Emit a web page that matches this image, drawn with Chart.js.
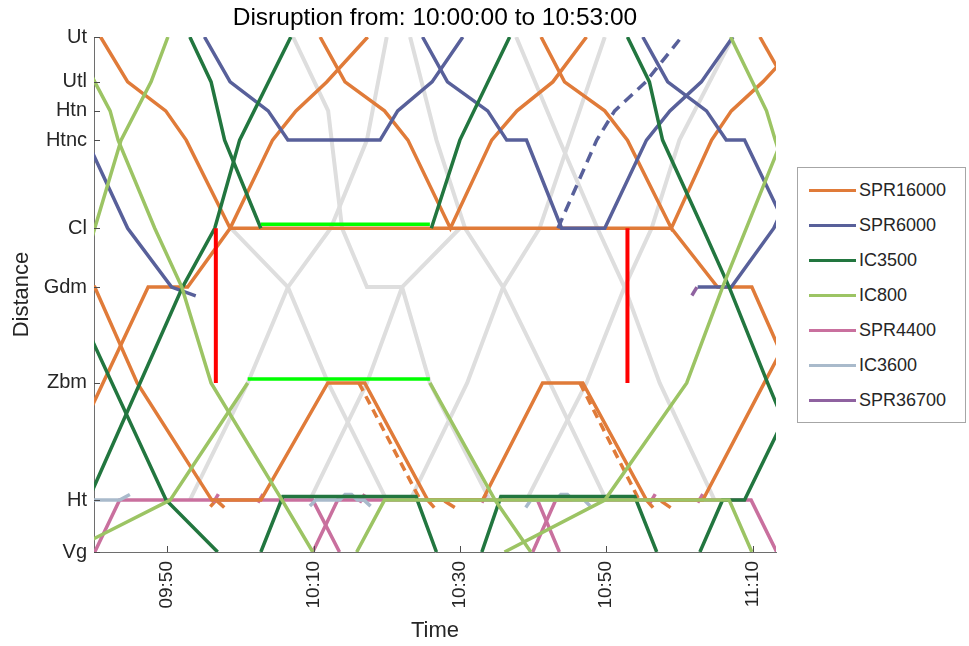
<!DOCTYPE html>
<html><head><meta charset="utf-8">
<script src="https://cdn.jsdelivr.net/npm/chart.js@4.4.1/dist/chart.umd.min.js"></script>
<style>
html,body{margin:0;padding:0;background:#fff;}
#wrap{position:relative;width:969px;height:646px;overflow:hidden;font-family:"Liberation Sans",Arial,sans-serif;}
#chart{position:absolute;left:0;top:0;}
#title{position:absolute;left:94px;width:682px;top:3px;text-align:center;font-size:24.5px;line-height:28px;color:#000;white-space:nowrap;}
#legend{position:absolute;left:797px;top:167px;width:169px;height:256px;border:1px solid #a6a6a6;background:#fff;box-sizing:border-box;}
.li{position:absolute;left:0;height:22px;width:168px;}
.li .sw{position:absolute;left:11px;top:10px;width:47px;height:3px;}
.li .tx{position:absolute;left:61px;top:0;font-size:18px;line-height:22px;color:#262626;white-space:nowrap;}
</style></head>
<body><div id="wrap"><canvas id="chart" width="969" height="646"></canvas><div id="title"></div><div id="legend"></div></div>
<script>
// ---------- axes ----------
const titleText = 'Disruption from: 10:00:00 to 10:53:00';
const stationNames = ['Vg','Ht','Zbm','Gdm','Cl','Htnc','Htn','Utl','Ut'];
const stationKm    = [0, 5.2, 16.94, 26.54, 32.44, 41.27, 44.2, 47.1, 51.6];
const timeTicks = [50, 70, 90, 110, 130];      // minutes after 09:00
const timeRange = [40, 133.2];

// ---------- trains: [minute after 09:00, station or km] ----------
const SPR16000_a = [[40.9,'Ut'],[44.6,'Utl'],[49.8,'Htn'],[52.6,'Htnc'],[58.6,'Cl'],[118.9,'Cl'],[125.2,'Gdm'],[129.9,'Gdm'],[135.7,'Zbm']];
const SPR16000_b = [[33.7,'Ht'],[47.4,'Gdm'],[52.8,'Gdm'],[58.6,'Cl'],[64.4,'Htnc'],[67.6,'Htn'],[71.8,'Utl'],[77.4,'Ut']];
const SPR16000_c = [[70.9,'Ut'],[74.3,'Utl'],[79.7,'Htn'],[82.9,'Htnc'],[88.7,'Cl'],[94.35,'Htnc'],[97.8,'Htn'],[102.7,'Utl'],[107.3,'Ut']];
const SPR16000_d = [[101.1,'Ut'],[104.3,'Utl'],[109.8,'Htn'],[112.9,'Htnc'],[118.9,'Cl'],[124.4,'Htnc'],[127.1,'Htn'],[131.4,'Utl'],[137.1,'Ut']];
const SPR16000_e = [[131.0,'Ut'],[134.5,'Utl']];
const SPR16000_f = [[38.5,'Gdm'],[40.1,'Gdm'],[45.9,'Zbm'],[56.1,'Ht'],[62.8,'Ht'],[71.95,'Zbm'],[77.0,'Zbm'],[85.6,'Ht'],[93.1,'Ht'],[101.3,'Zbm'],[106.8,'Zbm'],[115.5,'Ht'],[123.2,'Ht'],[131.6,'Zbm'],[138.5,'Gdm']];
const SPR16000_plan1 = [[76.2,'Zbm'],[84.6,'Ht']];
const SPR16000_plan2 = [[106.4,'Zbm'],[114.5,'Ht']];
const SPR16000_hooks = [[[55.9,4.55],[56.7,'Ht'],[57.8,4.45]],[[85.6,'Ht'],[86.5,4.45]],[[87.9,5.1],[89.3,4.45]],[[115.5,'Ht'],[116.4,4.45]],[[117.5,5.1],[118.8,4.45]]];

const SPR6000_a = [[39.0,'Htnc'],[44.6,'Cl'],[50.6,'Gdm'],[53.9,25.67]];
const SPR6000_b = [[55.1,'Ut'],[58.6,'Utl'],[63.8,'Htn'],[66.5,'Htnc'],[79.1,'Htnc'],[81.5,'Htn'],[86.2,'Utl'],[90.4,'Ut']];
const SPR6000_c = [[84.9,'Ut'],[88.3,'Utl'],[93.8,'Htn'],[96.4,'Htnc'],[99.1,'Htnc'],[103.9,'Cl'],[109.8,'Cl'],[115.5,'Htnc'],[118.7,'Htn'],[123.0,'Utl'],[127.3,'Ut']];
const SPR6000_plan = [[103.4,'Cl'],[108.7,'Htnc'],[111.15,'Htn'],[115.4,'Utl'],[120.3,'Ut']];
const SPR6000_d = [[115.0,'Ut'],[118.4,'Utl'],[123.7,'Htn'],[126.4,'Htnc'],[128.9,'Htnc'],[134.7,'Cl']];
const SPR6000_e = [[122.5,'Gdm'],[127.1,'Gdm'],[132.9,'Cl'],[138.5,'Htnc']];

const SPR36700_a = [[121.7,25.7],[122.4,'Gdm']];

const IC3500_a1 = [[53.1,'Ut'],[56.0,'Utl'],[57.85,'Htnc'],[62.8,'Cl']];
const IC3500_a2 = [[86.1,'Cl'],[90.0,'Htnc'],[96.8,'Ut']];
const IC3500_b = [[39.2,'Ht'],[52.1,'Gdm'],[56.5,'Cl'],[59.9,'Htnc'],[66.9,'Ut']];
const IC3500_c = [[36.4,'Gdm'],[49.85,'Ht'],[56.9,'Vg']];
const IC3500_d = [[62.8,'Vg'],[65.8,5.55],[84.0,5.55],[86.8,'Vg']];
const IC3500_e = [[93.0,'Vg'],[95.6,5.55],[113.9,5.55],[116.9,'Vg']];
const IC3500_f = [[122.8,'Vg'],[125.9,'Ht'],[128.9,'Ht'],[136.7,'Zbm']];
const IC3500_g = [[112.9,'Ut'],[115.9,'Utl'],[117.7,'Htnc'],[123.2,'Cl'],[126.8,'Gdm'],[132.05,'Zbm'],[138.75,'Ht']];

const IC800_a = [[37.0,'Ut'],[40.1,'Utl'],[42.2,'Htn'],[43.3,'Htnc'],[48.3,'Cl'],[52.0,'Gdm'],[56.0,'Zbm'],[65.7,'Ht'],[69.9,'Vg']];
const IC800_b = [[37.7,'Gdm'],[40.1,'Cl'],[43.7,'Htnc'],[47.8,'Utl'],[50.1,'Ut']];
const IC800_c1 = [[36.4,'Vg'],[50.4,'Ht'],[61.0,'Zbm']];
const IC800_c2 = [[85.9,'Zbm'],[94.8,'Ht'],[99.7,'Vg']];
const IC800_d = [[75.9,'Vg'],[79.7,'Ht'],[126.8,'Ht'],[129.9,'Vg']];
const IC800_e = [[96.1,'Vg'],[109.8,'Ht'],[121.0,'Zbm'],[125.9,'Gdm'],[134.0,'Htnc']];
const IC800_f = [[127.0,'Ut'],[131.9,'Htn'],[133.1,'Htnc'],[137.0,'Cl']];

const SPR4400_a = [[40.1,'Vg'],[43.5,'Ht'],[69.9,'Ht'],[73.55,'Vg']];
const SPR4400_b = [[69.9,'Vg'],[73.3,'Ht'],[100.6,'Ht'],[103.6,'Vg']];
const SPR4400_c = [[99.95,'Vg'],[103.1,'Ht'],[129.8,'Ht'],[133.3,'Vg']];
const SPR4400_stubs = [[[56.3,4.95],[57.0,5.8]],[[62.4,4.95],[63.1,5.8]],[[76.3,4.95],[77.0,5.8]],[[93.0,4.95],[93.6,5.8]],[[116.0,4.95],[116.7,5.8]],[[122.5,4.95],[123.2,5.8]]];

const IC3600_a = [[38.0,'Ht'],[43.5,'Ht'],[44.9,5.77]];
const IC3600_b = [[69.5,4.6],[70.3,'Ht'],[73.6,'Ht'],[74.3,5.75],[75.2,5.75],[76.0,'Ht'],[76.9,'Ht'],[77.8,4.6]];
const IC3600_c = [[99.0,4.45],[99.7,'Ht'],[103.1,'Ht'],[103.8,5.75],[104.7,5.75],[105.5,'Ht'],[107.0,'Ht'],[107.8,4.6]];

// planned (cancelled) paths
const plan_A = [[58.7,'Cl'],[66.5,'Gdm'],[72.0,'Zbm'],[80.0,'Ht']];
const plan_B = [[53.1,'Ht'],[61.0,'Zbm'],[66.5,'Gdm'],[72.35,'Cl'],[77.3,'Htnc'],[80.0,'Ut']];
const plan_C = [[67.2,'Ut'],[72.0,'Htn'],[73.9,'Cl'],[77.3,'Gdm'],[82.1,'Gdm'],[85.9,'Zbm'],[94.1,'Ht']];
const plan_D = [[69.5,'Ht'],[77.3,'Zbm'],[82.1,'Gdm'],[90.0,'Cl']];
const plan_E = [[83.2,'Ut'],[86.8,'Htnc'],[90.7,'Cl'],[95.9,'Gdm'],[102.3,'Zbm'],[110.0,'Ht']];
const plan_F = [[83.2,'Ht'],[91.0,'Zbm'],[95.9,'Gdm'],[100.9,'Cl'],[107.7,'Utl'],[109.8,'Ut']];
const plan_G = [[97.7,'Ut'],[103.6,'Htnc'],[108.8,'Cl'],[112.5,'Gdm'],[117.3,'Zbm'],[124.8,'Ht']];
const plan_H = [[99.1,'Ht'],[107.3,'Zbm'],[112.5,'Gdm'],[116.2,'Cl'],[120.0,'Htnc'],[127.3,'Ut']];

// disruption markers
const blockStart = [[56.65,'Zbm'],[56.65,'Cl']];
const blockEnd   = [[112.9,'Zbm'],[112.9,'Cl']];
const waitCl  = [[62.8,32.85],[85.9,32.85]];
const waitZbm = [[61.0,17.34],[85.9,17.34]];

// ---------- styles ----------
const seriesNames  = ['SPR16000','SPR6000','IC3500','IC800','SPR4400','IC3600','SPR36700'];
const seriesColors = ['#e07b39','#58609a','#22763f','#9cc464','#c9709e','#a9bacb','#8f62a0'];
const colOf = n => seriesColors[seriesNames.indexOf(n)];

const kmOf = s => typeof s === 'number' ? s : stationKm[stationNames.indexOf(s)];
const pts = arr => arr.map(([t,s]) => ({x:t, y:kmOf(s)}));

// bottom first
const layers = [];
const add = (arr, color, extra={}) => layers.push(Object.assign({data:pts(arr), borderColor:color, borderWidth:3.5}, extra));
[plan_A,plan_B,plan_C,plan_D,plan_E,plan_F,plan_G,plan_H].forEach(a=>add(a,'#dedede',{borderWidth:4}));
SPR16000_hooks.forEach(a=>add(a,colOf('SPR16000')));
SPR4400_stubs.forEach(a=>add(a,colOf('SPR4400')));
[SPR4400_a,SPR4400_b,SPR4400_c].forEach(a=>add(a,colOf('SPR4400')));
[IC3600_a,IC3600_b,IC3600_c].forEach(a=>add(a,colOf('IC3600')));
[SPR16000_a,SPR16000_b,SPR16000_c,SPR16000_d,SPR16000_e,SPR16000_f].forEach(a=>add(a,colOf('SPR16000')));
[SPR16000_plan1,SPR16000_plan2].forEach(a=>add(a,colOf('SPR16000'),{borderDash:[9,6]}));
[SPR6000_a,SPR6000_b,SPR6000_c,SPR6000_d,SPR6000_e].forEach(a=>add(a,colOf('SPR6000')));
add(SPR6000_plan,colOf('SPR6000'),{borderDash:[11,7]});
[IC3500_a1,IC3500_a2,IC3500_b,IC3500_c,IC3500_d,IC3500_e,IC3500_f,IC3500_g].forEach(a=>add(a,colOf('IC3500')));
[IC800_a,IC800_b,IC800_c1,IC800_c2,IC800_d,IC800_e,IC800_f].forEach(a=>add(a,colOf('IC800')));
add(SPR36700_a,colOf('SPR36700'));
[waitCl,waitZbm].forEach(a=>add(a,'#00ff00'));
[blockStart,blockEnd].forEach(a=>add(a,'#ff0000',{borderWidth:4}));

const datasets = layers.reverse().map(d => Object.assign(d,{showLine:true,pointRadius:0,tension:0,fill:false,clip:0}));

const fmtTime = v => { const h = 9 + Math.floor(v/60), m = Math.round(v%60); return String(h).padStart(2,'0')+':'+String(m).padStart(2,'0'); };
const FONT = '"Liberation Sans", Arial, sans-serif';

const innerTicks = {
  id:'innerTicks',
  afterDraw(chart){
    const {ctx, chartArea:a, scales:{x,y}} = chart;
    ctx.save(); ctx.strokeStyle='#4d4d4d'; ctx.lineWidth=1; ctx.beginPath();
    stationKm.forEach(v=>{ const py=Math.round(y.getPixelForValue(v))+0.5; ctx.moveTo(a.left,py); ctx.lineTo(a.left+6,py); });
    timeTicks.forEach(v=>{ const px=Math.round(x.getPixelForValue(v))+0.5; ctx.moveTo(px,a.bottom); ctx.lineTo(px,a.bottom-6); });
    ctx.stroke(); ctx.restore();
  }
};

new Chart(document.getElementById('chart'), {
  type:'scatter',
  data:{datasets},
  options:{
    responsive:false, animation:false, events:[],
    layout:{padding:{left:7,right:193,top:37,bottom:0}},
    plugins:{legend:{display:false},title:{display:false},tooltip:{enabled:false}},
    scales:{
      x:{type:'linear',min:timeRange[0],max:timeRange[1],
         afterBuildTicks:s=>{s.ticks=timeTicks.map(v=>({value:v}));},
         afterFit:s=>{s.height=94;},
         grid:{drawOnChartArea:false,drawTicks:false},
         border:{display:true,color:'#6e6e6e',width:1},
         ticks:{minRotation:90,maxRotation:90,padding:9,autoSkip:false,color:'#262626',font:{family:FONT,size:19},callback:v=>fmtTime(v)},
         title:{display:true,text:'Time',color:'#262626',font:{family:FONT,size:22},padding:{top:0,bottom:2}}},
      y:{type:'linear',min:0,max:stationKm[stationKm.length-1],
         afterBuildTicks:s=>{s.ticks=stationKm.map(v=>({value:v}));},
         afterFit:s=>{s.width=87;},
         grid:{drawOnChartArea:false,drawTicks:false},
         border:{display:true,color:'#6e6e6e',width:1},
         ticks:{padding:7,autoSkip:false,color:'#262626',font:{family:FONT,size:20},callback:(v,i)=>stationNames[i]},
         title:{display:true,text:'Distance',color:'#262626',font:{family:FONT,size:22},padding:{top:2,bottom:0}}}
    }
  },
  plugins:[innerTicks]
});

document.getElementById('title').textContent = titleText;
const lg = document.getElementById('legend');
seriesNames.forEach((n,i)=>{
  const d=document.createElement('div'); d.className='li'; d.style.top=(11+i*35)+'px';
  d.innerHTML='<span class="sw" style="background:'+seriesColors[i]+'"></span><span class="tx"></span>';
  d.querySelector('.tx').textContent=n; lg.appendChild(d);
});
</script>
</body></html>
